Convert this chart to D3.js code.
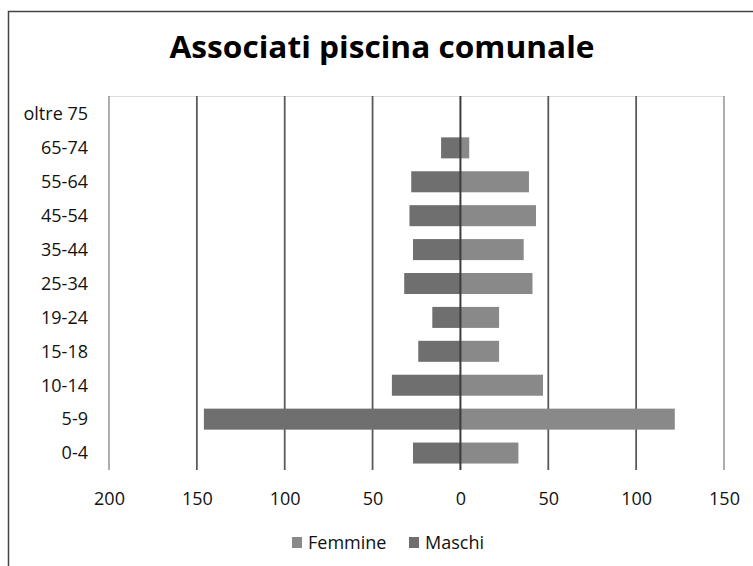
<!DOCTYPE html>
<html><head><meta charset="utf-8">
<script src="https://cdn.jsdelivr.net/npm/d3@7"></script>
<style>body{margin:0;background:#fff;}svg{display:block;font-family:"Open Sans",sans-serif;}</style>
</head><body>
<script>
const categories = ["oltre 75","65-74","55-64","45-54","35-44","25-34","19-24","15-18","10-14","5-9","0-4"];
const femmine = [0,5,39,43,36,41,22,22,47,122,33];
const maschi  = [0,11,28,29,27,32,16,24,39,146,27];
const xTicks = [-200,-150,-100,-50,0,50,100,150];
const seriesNames = ["Femmine","Maschi"];
const colors = {Femmine:"#898989", Maschi:"#6f6f6f"};

const W=753,H=566;
const svg=d3.select("body").append("svg").attr("width",W).attr("height",H);
svg.append("rect").attr("x",8.5).attr("y",11.5).attr("width",760).attr("height",600)
  .attr("fill","#fff").attr("stroke","#444").attr("stroke-width",1.5);

const x=d3.scaleLinear().domain([-200,150]).range([109,724]);
const y=d3.scaleBand().domain(categories).range([97,470]).paddingInner(0.38).paddingOuter(0.19);

svg.append("text").attr("x",382).attr("y",58).attr("text-anchor","middle")
  .attr("font-size",31).attr("font-weight","bold").attr("fill","#000")
  .attr("textLength",425).attr("lengthAdjust","spacingAndGlyphs")
  .text("Associati piscina comunale");

svg.append("line").attr("x1",109).attr("x2",724).attr("y1",96.5).attr("y2",96.5)
  .attr("stroke","#ddd").attr("stroke-width",1);

svg.append("g").selectAll("line").data(xTicks.filter(d=>d!==0)).join("line")
  .attr("x1",d=>x(d)).attr("x2",d=>x(d)).attr("y1",96).attr("y2",470)
  .attr("stroke",d=>(d===-200||d===150)?"#777":"#5a5a5a")
  .attr("stroke-width",d=>(d===-200||d===150)?1.2:1.8);

const rows=categories.map((c,i)=>({c,f:femmine[i],m:maschi[i]}));
svg.append("g").selectAll("rect").data(rows).join("rect")
  .attr("x",d=>x(-d.m)).attr("width",d=>x(0)-x(-d.m))
  .attr("y",d=>y(d.c)).attr("height",y.bandwidth()).attr("fill",colors.Maschi);
svg.append("g").selectAll("rect").data(rows).join("rect")
  .attr("x",x(0)).attr("width",d=>x(d.f)-x(0))
  .attr("y",d=>y(d.c)).attr("height",y.bandwidth()).attr("fill",colors.Femmine);

svg.append("line").attr("x1",x(0)).attr("x2",x(0)).attr("y1",96).attr("y2",470)
  .attr("stroke","#3c3c3c").attr("stroke-width",2);

const xa=d3.axisBottom(x).tickValues(xTicks).tickFormat(d=>Math.abs(d)).tickSize(0).tickPadding(0);
const gx=svg.append("g").attr("transform","translate(0,505)").call(xa);
gx.select(".domain").remove();
gx.selectAll("text").attr("font-size",18).attr("fill","#111").attr("dy",0).attr("y",0)
  .attr("font-family","Open Sans, sans-serif");

const ya=d3.axisLeft(y).tickSize(0).tickPadding(0);
const gy=svg.append("g").attr("transform","translate(88,0)").call(ya);
gy.select(".domain").remove();
gy.selectAll("text").attr("font-size",18).attr("fill","#111").attr("dy","0.35em")
  .attr("font-family","Open Sans, sans-serif");

const leg=[{n:"Femmine",x:292},{n:"Maschi",x:409}];
const lg=svg.append("g");
leg.forEach(l=>{
  lg.append("rect").attr("x",l.x).attr("y",537).attr("width",10).attr("height",11).attr("fill",colors[l.n]);
  lg.append("text").attr("x",l.x+16).attr("y",549).attr("font-size",18).attr("fill","#111").text(l.n);
});
</script>
</body></html>
